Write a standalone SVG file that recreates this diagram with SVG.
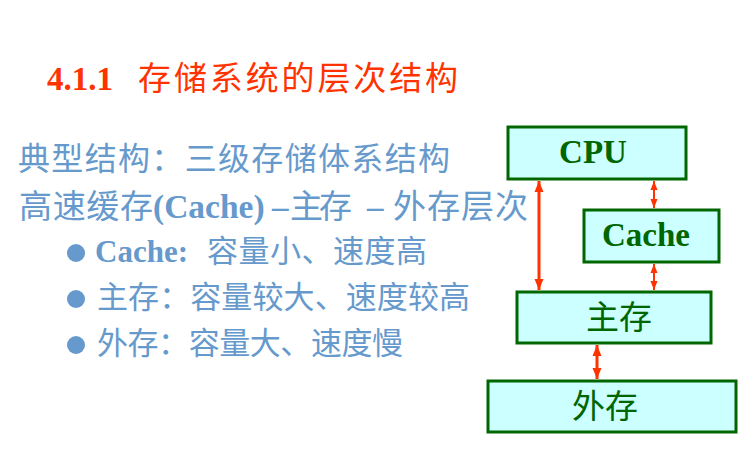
<svg xmlns="http://www.w3.org/2000/svg" width="749" height="453" viewBox="0 0 749 453">
  <style>
    .title { fill: #FF3300; }
    .body { fill: #6699CC; }
    .cjk { font-family: "Noto Sans CJK SC", "Noto Sans", sans-serif; }
    .lat { font-family: "Liberation Serif", "Times New Roman", serif; font-weight: bold; }
    .box rect { fill: #CCFFFF; stroke: #006600; stroke-width: 3; }
    .box text { fill: #006600; font-size: 33px; text-anchor: middle; }
    .link { stroke: #FF3300; fill: none; }
    .thick { stroke-width: 3; }
    .thin { stroke-width: 2; }
  </style>
  <defs>
    <marker id="headBig" markerUnits="userSpaceOnUse" markerWidth="12" markerHeight="12" viewBox="0 0 12 12" refX="11" refY="6" orient="auto-start-reverse">
      <path d="M0,1.5 L11,6 L0,10.5 Z" fill="#FF3300"/>
    </marker>
    <marker id="headSmall" markerUnits="userSpaceOnUse" markerWidth="10" markerHeight="10" viewBox="0 0 10 10" refX="9" refY="5" orient="auto-start-reverse">
      <path d="M0,1.5 L9,5 L0,8.5 Z" fill="#FF3300"/>
    </marker>
  </defs>

  <rect width="749" height="453" fill="#FFFFFF"/>

  <!-- heading -->
  <text y="90" class="title" font-size="33">
    <tspan class="lat" x="47">4.1.1</tspan>
    <tspan class="cjk" x="138" textLength="320" lengthAdjust="spacing">存储系统的层次结构</tspan>
  </text>

  <!-- description -->
  <text y="170" class="body cjk" font-size="32" x="18" textLength="432" lengthAdjust="spacing">典型结构：三级存储体系结构</text>
  <text y="218" class="body" font-size="33">
    <tspan class="cjk" x="19" textLength="134" lengthAdjust="spacing">高速缓存</tspan>
    <tspan class="lat" x="153" font-size="33.5">(Cache)</tspan>
    <tspan class="lat" x="272">–</tspan>
    <tspan class="cjk" x="290" textLength="62" lengthAdjust="spacing">主存</tspan>
    <tspan class="lat" x="367">–</tspan>
    <tspan class="cjk" x="393" textLength="135" lengthAdjust="spacing">外存层次</tspan>
  </text>

  <!-- bullet list -->
  <g class="body">
    <circle cx="76" cy="253" r="9"/>
    <circle cx="76" cy="299" r="9"/>
    <circle cx="76" cy="345" r="9"/>
  </g>
  <text y="262" class="body" font-size="31">
    <tspan class="lat" x="95">Cache:</tspan>
    <tspan class="cjk" x="207" textLength="220" lengthAdjust="spacing">容量小、速度高</tspan>
  </text>
  <text y="308" class="body cjk" font-size="31" x="97" textLength="373" lengthAdjust="spacing">主存：容量较大、速度较高</text>
  <text y="354" class="body cjk" font-size="31" x="97" textLength="306" lengthAdjust="spacing">外存：容量大、速度慢</text>

  <!-- memory hierarchy -->
  <g id="cpu" class="box">
    <rect x="508" y="127" width="178" height="52"/>
    <text x="593" y="163" class="lat">CPU</text>
  </g>
  <g id="cache" class="box">
    <rect x="584" y="210" width="135" height="52"/>
    <text x="646" y="246" class="lat">Cache</text>
  </g>
  <g id="main-memory" class="box">
    <rect x="517" y="292" width="194" height="51"/>
    <text x="619" y="329" class="cjk">主存</text>
  </g>
  <g id="external-memory" class="box">
    <rect x="488" y="381" width="248" height="51"/>
    <text x="605" y="418" class="cjk">外存</text>
  </g>

  <g id="connectors">
    <line class="link thick" x1="539" y1="181" x2="539" y2="290" marker-start="url(#headBig)" marker-end="url(#headBig)"/>
    <line class="link thin" x1="654" y1="181" x2="654" y2="208" marker-start="url(#headSmall)" marker-end="url(#headSmall)"/>
    <line class="link thin" x1="654" y1="264" x2="654" y2="290" marker-start="url(#headSmall)" marker-end="url(#headSmall)"/>
    <line class="link thick" x1="597" y1="345" x2="597" y2="379" marker-start="url(#headBig)" marker-end="url(#headBig)"/>
  </g>
</svg>
